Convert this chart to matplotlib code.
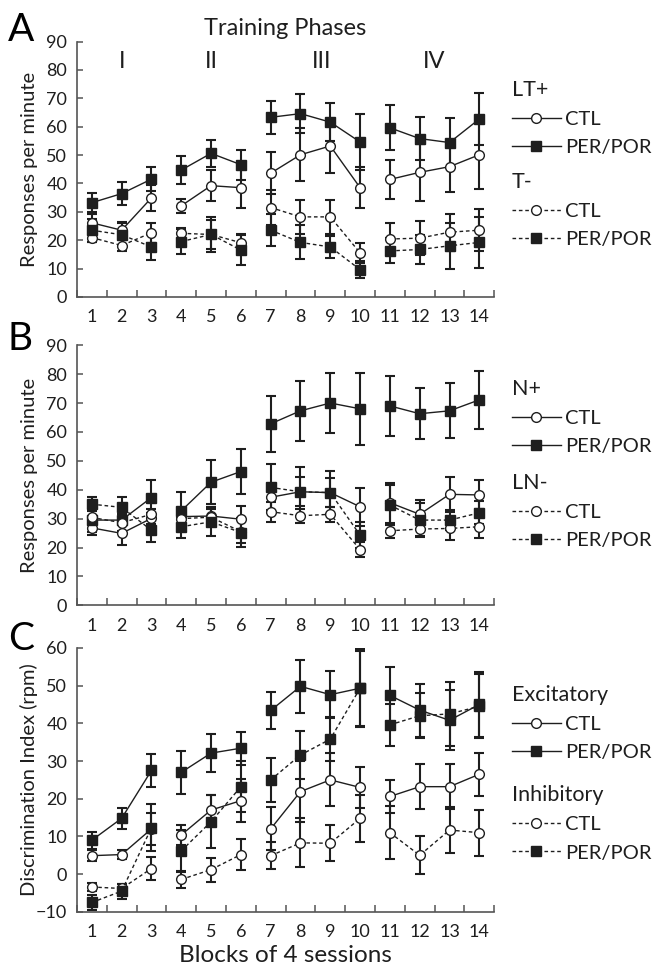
import numpy as np
import matplotlib
matplotlib.use("Agg")
import matplotlib.pyplot as plt

plt.rcParams["font.family"] = ["Lato", "DejaVu Sans"]

blocks = np.arange(1, 15)
phase_sizes = [3, 3, 4, 4]
phase_names = ["I", "II", "III", "IV"]
phase_label_x = [2, 5, 8.7, 12.5]

# panel A: LT+ and T-
lt_ctl = [26.1, 23.5, 34.9, 32.1, 39.2, 38.5, 43.6, 50.1, 53.2, 38.5, 41.4, 43.9, 45.9, 50.1]
lt_ctl_se = [3.0, 3.0, 4.5, 2.5, 5.5, 7.0, 7.3, 9.3, 9.5, 7.2, 7.0, 10.0, 9.0, 12.0]
lt_per = [33.2, 36.4, 41.5, 44.7, 50.6, 46.6, 63.3, 64.6, 61.6, 54.6, 59.6, 55.8, 54.4, 62.7]
lt_per_se = [3.3, 4.0, 4.3, 5.0, 4.7, 5.3, 5.8, 6.8, 6.8, 9.8, 7.9, 7.6, 8.8, 9.0]
tm_ctl = [20.9, 18.1, 22.6, 22.4, 22.0, 19.1, 31.5, 28.2, 28.2, 15.5, 20.4, 20.7, 22.8, 23.5]
tm_ctl_se = [1.5, 2.0, 3.5, 2.0, 5.0, 3.0, 6.0, 5.9, 6.0, 3.5, 5.5, 6.0, 6.5, 7.5]
tm_per = [23.5, 21.9, 17.6, 19.5, 22.0, 16.5, 23.5, 19.2, 17.6, 9.6, 16.2, 16.7, 18.0, 19.2]
tm_per_se = [4.0, 4.0, 4.5, 4.4, 6.2, 5.3, 5.7, 6.0, 4.0, 3.0, 4.4, 5.0, 8.0, 9.0]

# panel B: N+ and LN-
n_ctl = [26.8, 24.9, 30.1, 30.7, 30.9, 29.8, 37.4, 39.3, 39.0, 34.1, 35.5, 31.5, 38.4, 38.2]
n_ctl_se = [2.5, 4.0, 2.0, 3.0, 3.0, 4.5, 4.5, 5.0, 5.0, 6.5, 7.0, 5.0, 6.0, 5.0]
n_per = [29.5, 29.5, 37.3, 32.7, 42.6, 46.3, 62.8, 67.3, 70.0, 68.0, 69.0, 66.3, 67.3, 71.1]
n_per_se = [4.0, 4.0, 6.0, 6.5, 7.7, 7.8, 9.6, 10.3, 10.3, 12.5, 10.3, 8.8, 9.5, 10.1]
ln_ctl = [30.4, 28.6, 31.5, 30.0, 30.5, 25.5, 32.4, 31.0, 31.5, 19.3, 25.8, 26.4, 26.6, 27.2]
ln_ctl_se = [2.5, 3.0, 2.0, 2.5, 3.0, 4.0, 3.5, 2.5, 2.5, 2.5, 2.5, 2.5, 4.0, 4.0]
ln_per = [35.0, 33.9, 26.0, 27.2, 28.9, 25.2, 40.8, 39.3, 39.0, 24.3, 34.7, 29.5, 29.5, 32.0]
ln_per_se = [2.5, 3.5, 4.0, 4.0, 5.0, 5.0, 8.0, 8.5, 7.5, 4.5, 7.0, 6.0, 3.5, 4.0]

# panel C: discrimination index
ex_ctl = [4.9, 5.2, 12.0, 10.4, 17.0, 19.5, 12.0, 21.9, 25.0, 23.0, 20.6, 23.2, 23.2, 26.5]
ex_ctl_se = [1.5, 1.3, 4.2, 2.6, 4.0, 5.7, 5.7, 8.0, 7.0, 5.5, 4.3, 6.0, 6.0, 5.7]
ex_per = [9.0, 14.8, 27.5, 27.0, 32.1, 33.4, 43.4, 49.8, 47.6, 49.3, 47.4, 43.5, 40.8, 45.0]
ex_per_se = [2.3, 2.7, 4.4, 5.7, 5.1, 4.4, 5.0, 7.0, 6.3, 10.4, 7.5, 7.0, 8.0, 8.5]
in_ctl = [-3.4, -3.8, 1.5, -1.4, 1.2, 5.2, 4.9, 8.3, 8.2, 14.8, 11.0, 5.0, 11.7, 11.0]
in_ctl_se = [1.0, 1.2, 3.0, 2.2, 3.2, 4.0, 3.5, 6.5, 4.8, 6.3, 7.0, 5.0, 6.0, 6.1]
in_per = [-7.5, -4.5, 12.3, 6.2, 13.9, 23.2, 25.0, 31.6, 35.8, 49.3, 39.6, 42.0, 42.5, 44.5]
in_per_se = [2.0, 2.0, 6.2, 5.5, 7.0, 6.8, 5.8, 6.3, 5.9, 10.0, 5.5, 6.0, 8.5, 8.5]

ink = "#1e1e1e"
axis_col = "#555555"
dash = (0, (2.6, 2.0))


def draw_series(ax, y, se, ls, marker):
    y = np.asarray(y)
    ax.errorbar(blocks, y, yerr=se, fmt="none", ecolor=ink, elinewidth=1.5,
                capsize=3.8, capthick=1.5, zorder=2)
    face = "white" if marker == "o" else ink
    size = 7 if marker == "o" else 6.5
    start = 0
    handle = None
    for n in phase_sizes:
        seg = slice(start, start + n)
        h, = ax.plot(blocks[seg], y[seg], linestyle=ls, color=ink, lw=1.0,
                     marker=marker, markersize=size, markerfacecolor=face,
                     markeredgecolor=ink, markeredgewidth=1.0, zorder=3)
        if handle is None:
            handle = h
        start += n
    return handle


def style_axis(ax, ylim, yticks, ylabel):
    ax.set_xlim(0.5, 14.5)
    ax.set_ylim(*ylim)
    ax.set_yticks(yticks)
    ax.set_xticks(blocks)
    ax.set_xticks(np.arange(0.5, 15, 1), minor=True)
    for s in ["top", "right"]:
        ax.spines[s].set_visible(False)
    for s in ["left", "bottom"]:
        ax.spines[s].set_color(axis_col)
        ax.spines[s].set_linewidth(1.2)
    ax.tick_params(axis="x", which="major", length=0, pad=9, labelsize=13, colors=ink)
    ax.tick_params(axis="x", which="minor", direction="in", length=5, width=1.1, color=axis_col)
    ax.tick_params(axis="y", direction="in", length=4, width=1.1, color=axis_col,
                   pad=7, labelsize=13, labelcolor=ink)
    ax.set_ylabel(ylabel, fontsize=14.5, color=ink)
    ax.yaxis.set_label_coords(-0.093, 0.5)


def add_legends(ax, groups, tops):
    leg_kw = dict(loc="upper left", frameon=False, borderpad=0, borderaxespad=0,
                  handlelength=2.45, handletextpad=0.2, labelspacing=0.55,
                  fontsize=14.5, title_fontsize=15.5, alignment="left")
    first = None
    for (title, handles), top in zip(groups, tops):
        leg = ax.legend(handles, ["CTL", "PER/POR"], title=title,
                        bbox_to_anchor=(1.042, top), **leg_kw)
        for t in leg.get_texts():
            t.set_color(ink)
        leg.get_title().set_color(ink)
        if first is None:
            first = leg
            ax.add_artist(leg)


fig = plt.figure(figsize=(6.52, 9.67), dpi=100)
axA = fig.add_axes([0.118, 0.693, 0.640, 0.264])
axB = fig.add_axes([0.118, 0.374, 0.640, 0.269])
axC = fig.add_axes([0.118, 0.057, 0.640, 0.273])

# A
h1 = draw_series(axA, lt_ctl, lt_ctl_se, "-", "o")
h2 = draw_series(axA, lt_per, lt_per_se, "-", "s")
h3 = draw_series(axA, tm_ctl, tm_ctl_se, dash, "o")
h4 = draw_series(axA, tm_per, tm_per_se, dash, "s")
style_axis(axA, (0, 90), np.arange(0, 91, 10), "Responses per minute")
add_legends(axA, [("LT+", [h1, h2]), ("T-", [h3, h4])], [0.85, 0.49])
for x, name in zip(phase_label_x, phase_names):
    axA.text(x, 83, name, ha="center", va="center", fontsize=17, color=ink, clip_on=False)
axA.text(0.5, 1.052, "Training Phases", transform=axA.transAxes, ha="center",
         va="center", fontsize=17, color=ink)

# B
h1 = draw_series(axB, n_ctl, n_ctl_se, "-", "o")
h2 = draw_series(axB, n_per, n_per_se, "-", "s")
h3 = draw_series(axB, ln_ctl, ln_ctl_se, dash, "o")
h4 = draw_series(axB, ln_per, ln_per_se, dash, "s")
style_axis(axB, (0, 90), np.arange(0, 91, 10), "Responses per minute")
add_legends(axB, [("N+", [h1, h2]), ("LN-", [h3, h4])], [0.87, 0.51])

# C
h1 = draw_series(axC, ex_ctl, ex_ctl_se, "-", "o")
h2 = draw_series(axC, ex_per, ex_per_se, "-", "s")
h3 = draw_series(axC, in_ctl, in_ctl_se, dash, "o")
h4 = draw_series(axC, in_per, in_per_se, dash, "s")
style_axis(axC, (-10, 60), np.arange(-10, 61, 10), "Discrimination Index (rpm)")
axC.set_xlabel("Blocks of 4 sessions", fontsize=17.5, color=ink, labelpad=3)
add_legends(axC, [("Excitatory", [h1, h2]), ("Inhibitory", [h3, h4])], [0.86, 0.48])

for y, letter in [(0.988, "A"), (0.668, "B"), (0.358, "C")]:
    fig.text(0.012, y, letter, fontsize=28, va="top", ha="left", color="black")

fig.savefig("out.png", dpi=100)
